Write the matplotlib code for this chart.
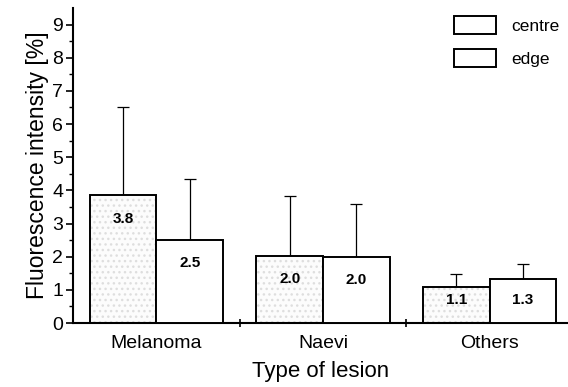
"""
fluorescence intensity per lesion type, centre vs edge
"""
import numpy as np
import matplotlib
matplotlib.use('Agg')
from matplotlib import pyplot as plt
from matplotlib.patches import Patch

categories = ['Melanoma', 'Naevi', 'Others']
centre_mean = [3.8, 2.0, 1.1]
edge_mean = [2.5, 2.0, 1.3]
centre_bar = [3.85, 2.02, 1.08]
edge_bar = [2.5, 2.0, 1.32]
centre_err_top = [6.5, 3.82, 1.48]
edge_err_top = [4.35, 3.6, 1.78]

plt.rcParams['font.family'] = ['Liberation Sans', 'DejaVu Sans']

fig = plt.figure(figsize=(5.68, 3.87), dpi=100)
ax = fig.add_axes([73 / 568, 1 - 323 / 387, 1 - 73 / 568, (323 - 8) / 387])

x = np.arange(len(categories)) + 0.5
w = 0.4

centre_bar = np.asarray(centre_bar)
edge_bar = np.asarray(edge_bar)

# stippled centre bars: faint grey dots first, black outline on top
ax.bar(x - w / 2, centre_bar, w, color='#fcfcfc', hatch='...', edgecolor='#dedede', linewidth=0, zorder=2)
ax.bar(x - w / 2, centre_bar, w, fill=False, edgecolor='black', linewidth=1.4, zorder=3)
ax.bar(x + w / 2, edge_bar, w, color='white', edgecolor='black', linewidth=1.4, zorder=3)

ax.errorbar(x - w / 2, centre_bar, yerr=[np.zeros(3), np.asarray(centre_err_top) - centre_bar],
            fmt='none', ecolor='black', elinewidth=0.9, capsize=4.3, capthick=0.9, zorder=1)
ax.errorbar(x + w / 2, edge_bar, yerr=[np.zeros(3), np.asarray(edge_err_top) - edge_bar],
            fmt='none', ecolor='black', elinewidth=0.9, capsize=4.3, capthick=0.9, zorder=1)

for xs, heights, labels in [(x - w / 2, centre_bar, centre_mean), (x + w / 2, edge_bar, edge_mean)]:
    for xi, h, v in zip(xs, heights, labels):
        ax.text(xi, max(h - 0.7, 0.7), f'{v:.1f}', ha='center', va='center',
                fontsize=11, fontweight='bold', zorder=4)

ax.set_xlim(0, 2.97)
ax.set_ylim(0, 9.5)
ax.set_yticks(range(10))
ax.set_yticks(np.arange(0.5, 9.5, 1), minor=True)
ax.set_xticks(x)
ax.set_xticklabels(categories, fontsize=14)
ax.set_xticks([1, 2], minor=True)
ax.tick_params(axis='x', which='major', length=0, pad=9)
ax.tick_params(axis='x', which='minor', length=6, direction='inout', width=1.2)
ax.tick_params(axis='y', which='major', length=5, width=1.2, labelsize=14, pad=2)
ax.tick_params(axis='y', which='minor', length=3, width=1.0)

for side in ['top', 'right']:
    ax.spines[side].set_visible(False)
for side in ['left', 'bottom']:
    ax.spines[side].set_linewidth(1.5)

ax.set_ylabel('Fluorescence intensity [%]', fontsize=16.5, labelpad=2)
ax.set_xlabel('Type of lesion', fontsize=16, labelpad=6)

handles = [Patch(facecolor='white', edgecolor='black', linewidth=1.4),
           Patch(facecolor='white', edgecolor='black', linewidth=1.4)]
ax.legend(handles, ['centre', 'edge'], loc='upper right', bbox_to_anchor=(1.015, 1.025),
          frameon=False, fontsize=12.5, handlelength=2.4, handleheight=1.25,
          labelspacing=0.85, handletextpad=0.9)

fig.savefig('out.png', dpi=100)
